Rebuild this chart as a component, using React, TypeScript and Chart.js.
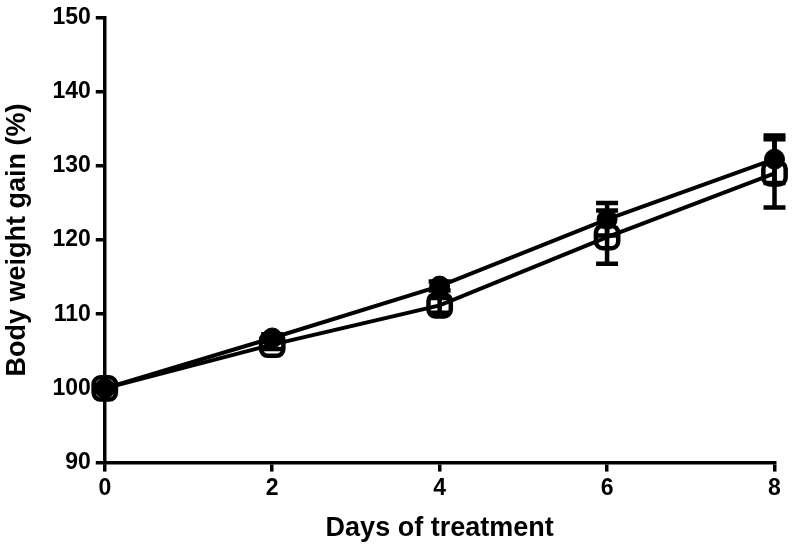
import React, { useEffect, useRef } from "react";
import { Chart, registerables } from "chart.js";

Chart.register(...registerables);

const days = [0, 2, 4, 6, 8];
const circleMeans = [100, 106.8, 113.8, 122.8, 130.9];
const circleErr = [0.4, 0.5, 0.6, 2.2, 3.2];
const squareMeans = [100, 105.9, 111.2, 120.4, 129.0];
const squareErr = [0.4, 0.6, 1.0, 3.6, 4.6];
const yTicks = [90, 100, 110, 120, 130, 140, 150];
const xTicks = [0, 2, 4, 6, 8];

const errorBarPlugin = {
  id: "errorBars",
  beforeDatasetsDraw(chart: any) {
    const ctx = chart.ctx;
    const xs = chart.scales.x;
    const ys = chart.scales.y;
    const sets = [
      { m: circleMeans, e: circleErr },
      { m: squareMeans, e: squareErr },
    ];
    ctx.save();
    ctx.strokeStyle = "#000";
    ctx.lineWidth = 4.5;
    const cap = 11;
    sets.forEach((s) => {
      days.forEach((d, i) => {
        const x = xs.getPixelForValue(d);
        const yTop = ys.getPixelForValue(s.m[i] + s.e[i]);
        const yBot = ys.getPixelForValue(s.m[i] - s.e[i]);
        ctx.beginPath();
        ctx.moveTo(x, yTop);
        ctx.lineTo(x, yBot);
        ctx.moveTo(x - cap, yTop);
        ctx.lineTo(x + cap, yTop);
        ctx.moveTo(x - cap, yBot);
        ctx.lineTo(x + cap, yBot);
        ctx.stroke();
      });
    });
    ctx.restore();
  },
};

export default function App() {
  const ref = useRef<HTMLCanvasElement>(null);
  useEffect(() => {
    document.body.style.margin = "0";
    const font = { family: "'Liberation Sans', Arial, sans-serif", weight: "bold" as const };
    const chart = new Chart(ref.current!, {
      type: "line",
      data: {
        datasets: [
          {
            label: "Group A",
            data: days.map((d, i) => ({ x: d, y: circleMeans[i] })),
            borderColor: "#000",
            backgroundColor: "#000",
            borderWidth: 4,
            pointStyle: "circle",
            pointRadius: 10,
            pointBorderWidth: 1,
            pointBackgroundColor: "#000",
            clip: false,
            order: 0,
          },
          {
            label: "Group B",
            data: days.map((d, i) => ({ x: d, y: squareMeans[i] })),
            borderColor: "#000",
            backgroundColor: "rgba(0,0,0,0)",
            borderWidth: 4,
            pointStyle: "rectRounded",
            pointRadius: 13,
            pointBorderWidth: 4.5,
            pointBackgroundColor: "rgba(0,0,0,0)",
            clip: false,
            order: 1,
          },
        ],
      },
      options: {
        animation: false,
        responsive: false,
        maintainAspectRatio: false,
        layout: { padding: { left: 1, right: 15, top: 15, bottom: 1 } },
        plugins: {
          legend: { display: false },
          tooltip: { enabled: false },
        },
        scales: {
          x: {
            type: "linear",
            min: 0,
            max: 8,
            afterBuildTicks: (s: any) => {
              s.ticks = xTicks.map((v) => ({ value: v }));
            },
            afterFit: (s: any) => {
              s.paddingLeft = 0;
              s.paddingRight = 0;
            },
            grid: {
              display: true,
              drawOnChartArea: false,
              drawTicks: true,
              tickLength: 9,
              lineWidth: 3.5,
              color: "#000",
            },
            border: { display: true, width: 3.5, color: "#000" },
            ticks: { color: "#000", font: { ...font, size: 23, lineHeight: 1.0 }, padding: 6, maxRotation: 0 },
            title: {
              display: true,
              text: "Days of treatment",
              color: "#000",
              font: { ...font, size: 27 },
              padding: { top: 6, bottom: 0 },
            },
          },
          y: {
            type: "linear",
            min: 90,
            max: 150,
            afterBuildTicks: (s: any) => {
              s.ticks = yTicks.map((v) => ({ value: v }));
            },
            afterFit: (s: any) => {
              s.paddingTop = 0;
              s.paddingBottom = 0;
            },
            grid: {
              display: true,
              drawOnChartArea: false,
              drawTicks: true,
              tickLength: 9,
              lineWidth: 3.5,
              color: "#000",
            },
            border: { display: true, width: 3.5, color: "#000" },
            ticks: { color: "#000", font: { ...font, size: 23, lineHeight: 1.0 }, padding: 5 },
            title: {
              display: true,
              text: "Body weight gain (%)",
              color: "#000",
              font: { ...font, size: 27 },
              padding: { top: 0, bottom: 14 },
            },
          },
        },
      },
      plugins: [errorBarPlugin],
    });
    return () => chart.destroy();
  }, []);
  return (
    <div style={{ position: "absolute", left: 0, top: 0, width: 792, height: 546 }}>
      <canvas ref={ref} width={792} height={546} />
    </div>
  );
}
